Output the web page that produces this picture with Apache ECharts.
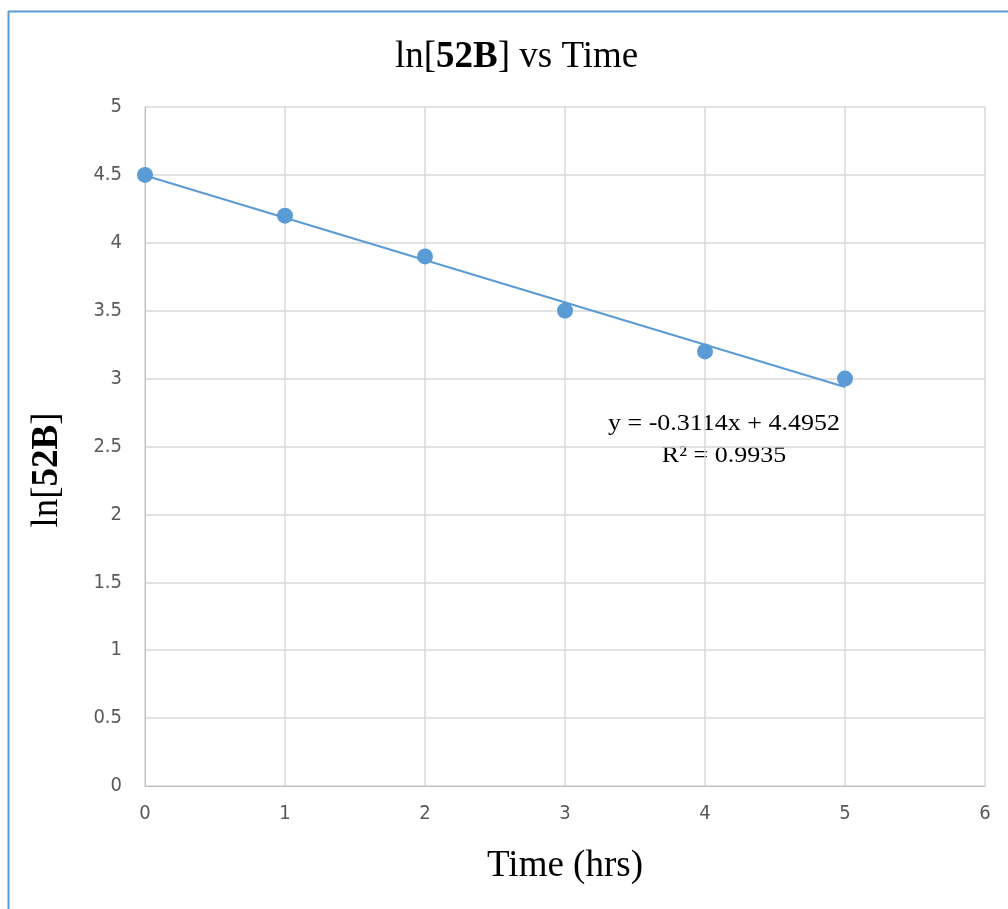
<!DOCTYPE html>
<html><head><meta charset="utf-8">
<script src="https://cdn.jsdelivr.net/npm/echarts@6/dist/echarts.min.js"></script>
<style>html,body{margin:0;padding:0;background:#fff}#c{width:1008px;height:909px}</style>
</head><body><div id="c"></div>
<script>
const times = [0, 1, 2, 3, 4, 5];
const lnValues = [4.5, 4.2, 3.9, 3.5, 3.2, 3.0];
const trendX = [0, 5];
const trendY = [4.4952, 2.9382];
const eqLines = ['y = -0.3114x + 4.4952', 'R² = 0.9935'];

const chart = echarts.init(document.getElementById('c'));
const serif = '"Liberation Serif","Times New Roman",serif';
const sans = '"DejaVu Sans Condensed","Roboto","Open Sans",sans-serif';
const big = 37;
chart.setOption({
  animation: false,
  title: {
    text: 'ln[{b|52B}] vs Time',
    left: 390, top: 34,
    textStyle: {
      fontFamily: serif, fontSize: big, fontWeight: 'normal', color: '#000',
      rich: { b: { fontFamily: serif, fontSize: big, fontWeight: 'bold', color: '#000' } }
    }
  },
  grid: { left: 145, right: 23, top: 107, bottom: 123 },
  xAxis: {
    type: 'value', min: 0, max: 6, interval: 1,
    name: 'Time (hrs)', nameLocation: 'middle', nameGap: 62,
    nameTextStyle: { fontFamily: serif, fontSize: big, color: '#000' },
    axisLine: { show: true, lineStyle: { color: '#bfbfbf', width: 1 } },
    axisTick: { show: false },
    axisLabel: { fontFamily: sans, fontSize: 20, color: '#595959', margin: 18 },
    splitLine: { show: true, lineStyle: { color: '#d9d9d9', width: 1.5 } }
  },
  yAxis: {
    type: 'value', min: 0, max: 5, interval: 0.5,
    axisLine: { show: true, lineStyle: { color: '#bfbfbf', width: 1 } },
    axisTick: { show: false },
    axisLabel: { fontFamily: sans, fontSize: 20, color: '#595959', margin: 23 },
    splitLine: { show: true, lineStyle: { color: '#d9d9d9', width: 1.5 } }
  },
  series: [
    {
      type: 'line',
      data: trendX.map((x, i) => [x, trendY[i]]),
      showSymbol: false, symbol: 'none',
      lineStyle: { color: '#5b9bd5', width: 2 },
      z: 2
    },
    {
      type: 'scatter',
      data: times.map((t, i) => [t, lnValues[i]]),
      symbolSize: 16,
      itemStyle: { color: '#5b9bd5', opacity: 1 },
      z: 3
    }
  ],
  graphic: [
    { type: 'line', shape: { x1: 8.5, y1: 11, x2: 8.5, y2: 909 }, style: { stroke: '#5b9bd5', lineWidth: 2 } },
    { type: 'line', shape: { x1: 8, y1: 11.5, x2: 1008, y2: 11.5 }, style: { stroke: '#5b9bd5', lineWidth: 2 } },
    { type: 'text', x: 47, y: 470, rotation: Math.PI / 2,
      style: { text: 'ln[{b|52B}]', font: big + 'px ' + serif, fill: '#000', align: 'center', verticalAlign: 'middle',
        rich: { b: { fontFamily: serif, fontSize: big, fontWeight: 'bold', fill: '#000' } } } },
    { type: 'text', x: 724, y: 424, scaleX: 1.13, style: { text: eqLines[0], font: '23px ' + serif, fill: '#000', align: 'center', verticalAlign: 'middle' } },
    { type: 'text', x: 724, y: 456, scaleX: 1.13, style: { text: eqLines[1], font: '23px ' + serif, fill: '#000', align: 'center', verticalAlign: 'middle' } }
  ]
});
</script></body></html>
